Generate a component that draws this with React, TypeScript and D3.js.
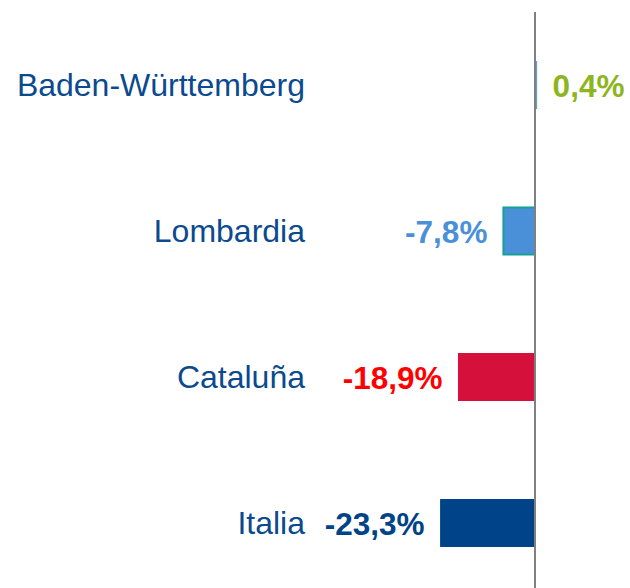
import React from 'react';
import * as d3 from 'd3';

const regions = ['Baden-Württemberg', 'Lombardia', 'Cataluña', 'Italia'];
const changes = [0.4, -7.8, -18.9, -23.3];
const valueLabels = ['0,4%', '-7,8%', '-18,9%', '-23,3%'];
const barFills = ['#5B9BD5', '#4A90D9', '#D4103B', '#004388'];
const barStrokes = ['#5B9BD5', '#16A09A', '#D4103B', '#004388'];
const labelColors = ['#8DB51E', '#4A90D9', '#FF0000', '#004388'];

const W = 630;
const H = 588;

export default function App() {
  const x = d3.scaleLinear().domain([-25, 5]).range([433.75, 555.25]);
  const y = d3.scalePoint<string>().domain(regions).range([85, 523]);
  const barH = 47;
  const x0 = x(0);

  return (
    <svg
      width={W}
      height={H}
      style={{ position: 'absolute', left: 0, top: 0, background: '#fff' }}
      fontFamily="'Liberation Sans', Arial, sans-serif"
    >
      {regions.map((r, i) => {
        const v = changes[i];
        const cy = y(r)!;
        const xa = x(Math.min(0, v));
        const xb = x(Math.max(0, v));
        const neg = v < 0;
        return (
          <g key={r}>
            <rect
              x={xa}
              y={cy - barH / 2}
              width={xb - xa}
              height={barH}
              fill={barFills[i]}
              stroke={barStrokes[i]}
              strokeWidth={i === 1 ? 2 : 1}
            />
            <text
              x={305}
              y={cy}
              dy="0.33em"
              textAnchor="end"
              fontSize={32}
              fill="#0B4A8E"
            >
              {r}
            </text>
            <text
              x={neg ? xa - 16 : xb + 16}
              y={cy}
              dy="0.37em"
              textAnchor={neg ? 'end' : 'start'}
              fontSize={31.5}
              fontWeight="bold"
              fill={labelColors[i]}
            >
              {valueLabels[i]}
            </text>
          </g>
        );
      })}
      <line x1={x0} x2={x0} y1={12} y2={H} stroke="#808080" strokeWidth={2} />
    </svg>
  );
}
